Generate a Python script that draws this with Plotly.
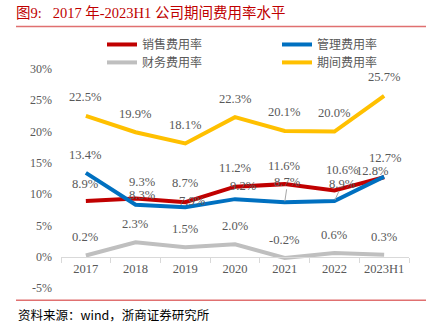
import plotly.graph_objects as go

# categories and expense ratios (%)
years = ["2017", "2018", "2019", "2020", "2021", "2022", "2023H1"]
sales_ratio = [8.9, 9.3, 8.7, 11.2, 11.6, 10.6, 12.7]
admin_ratio = [13.4, 8.3, 7.9, 9.2, 8.7, 8.9, 12.8]
finance_ratio = [0.2, 2.3, 1.5, 2.0, -0.2, 0.6, 0.3]
period_ratio = [22.5, 19.9, 18.1, 22.3, 20.1, 20.0, 25.7]
y_ticks = [-5, 0, 5, 10, 15, 20, 25, 30]

W, H = 441, 325
M_L, M_R, M_T, M_B = 61, 32, 68.6, 36.7
PLOT_W = W - M_L - M_R
PLOT_H = H - M_T - M_B

SERIF = "Liberation Serif, Times New Roman, serif"
CJK = "Noto Sans CJK SC, sans-serif"
LABEL_GREY = "#595959"


def px_x(p):
    return (p - M_L) / PLOT_W


def px_y(p):
    return (H - M_B - p) / PLOT_H


# name, values, colour, legend id, legend slot (left px, middle px)
series = [
    ("销售费用率", sales_ratio, "#C00000", "legend", (102, 44)),
    ("管理费用率", admin_ratio, "#0070C0", "legend2", (277, 44)),
    ("财务费用率", finance_ratio, "#BFBFBF", "legend3", (102, 62)),
    ("期间费用率", period_ratio, "#FFC000", "legend4", (277, 62)),
]

# pixel offsets of each value label from its point (dx, dy; dy negative = up)
label_offsets = {
    "销售费用率": [(0, -17), (7, -16.5), (0, -19), (0, -18.5), (0, -18), (8, -20), (1, -19.5)],
    "管理费用率": [(0, -17.5), (7, -10), (7, -6), (8, -13.5), None, None, (-12, -5.5)],
    "财务费用率": [(0, -18)] * 7,
    "期间费用率": [(0, -18.5)] * 7,
}
# labels pulled away from their point and tied back with a leader line
leader_offsets = {"管理费用率": {4: (3, -20.5), 5: (8, -17.5)}}

fig = go.Figure()
annotations = []
legends = {}
for name, vals, color, legend_id, (lx, ly) in series:
    fig.add_trace(go.Scatter(
        x=years, y=vals, name=name, mode="lines",
        line=dict(color=color, width=4),
        legend=legend_id, hoverinfo="skip",
    ))
    legends[legend_id] = dict(
        x=px_x(lx), y=px_y(ly), xanchor="left", yanchor="middle",
        orientation="h", itemwidth=30,
        font=dict(family=CJK, size=12, color=LABEL_GREY),
        bgcolor="rgba(0,0,0,0)", borderwidth=0,
    )
    for i, v in enumerate(vals):
        text = f"{v:.1f}%"
        font = dict(family=SERIF, size=12.6, color=LABEL_GREY)
        off = label_offsets[name][i]
        if off is None:
            ax, ay = leader_offsets[name][i]
            annotations.append(dict(
                x=i, y=v, xref="x", yref="y", text=text, font=font,
                showarrow=True, arrowhead=0, arrowwidth=1, arrowcolor="#A6A6A6",
                ax=ax, ay=ay, standoff=1, borderpad=0,
            ))
        else:
            annotations.append(dict(
                x=i, y=v, xref="x", yref="y", text=text, font=font,
                showarrow=False, xshift=off[0], yshift=-off[1],
            ))

# source note under the chart
annotations.append(dict(
    x=px_x(16), y=px_y(315), xref="paper", yref="paper",
    text="资料来源：wind，浙商证券研究所",
    showarrow=False, xanchor="left", yanchor="middle",
    font=dict(family=CJK, size=12.5, color="#000000"),
))

rule_color = "#E07070"
shapes = [
    dict(type="line", xref="paper", yref="paper", x0=px_x(16), x1=px_x(426),
         y0=px_y(26), y1=px_y(26), line=dict(color=rule_color, width=1.5)),
    dict(type="line", xref="paper", yref="paper", x0=px_x(16), x1=px_x(426),
         y0=px_y(300.5), y1=px_y(300.5), line=dict(color=rule_color, width=1.5)),
]

y_min, y_max = -5, 30
zero_pos = (0 - y_min) / (y_max - y_min)

fig.update_layout(
    width=W, height=H,
    margin=dict(l=M_L, r=M_R, t=M_T, b=M_B, pad=0),
    paper_bgcolor="white", plot_bgcolor="white",
    title=dict(
        text="图9:   2017 年-2023H1 公司期间费用率水平",
        x=16 / W, xanchor="left", xref="container",
        y=1 - 13 / H, yanchor="middle", yref="container",
        font=dict(family=SERIF + ", " + CJK, size=14.5, color="#C00000"),
    ),
    xaxis=dict(
        type="category", range=[-0.5, len(years) - 0.5],
        anchor="free", position=zero_pos,
        showline=True, linecolor="#D9D9D9", linewidth=1,
        ticks="outside", tickson="boundaries", ticklen=5, tickcolor="#D9D9D9",
        showgrid=False, zeroline=False,
        tickfont=dict(family=SERIF, size=12.5, color=LABEL_GREY),
    ),
    yaxis=dict(
        range=[y_min, y_max], tickvals=y_ticks, ticktext=[f"{t}%" for t in y_ticks],
        showgrid=False, zeroline=False, showline=False, ticks="",
        tickfont=dict(family=SERIF, size=12, color=LABEL_GREY),
        ticklabelstandoff=8,
    ),
    annotations=annotations,
    shapes=shapes,
    showlegend=True,
    **legends,
)

fig.write_html("out.html")
